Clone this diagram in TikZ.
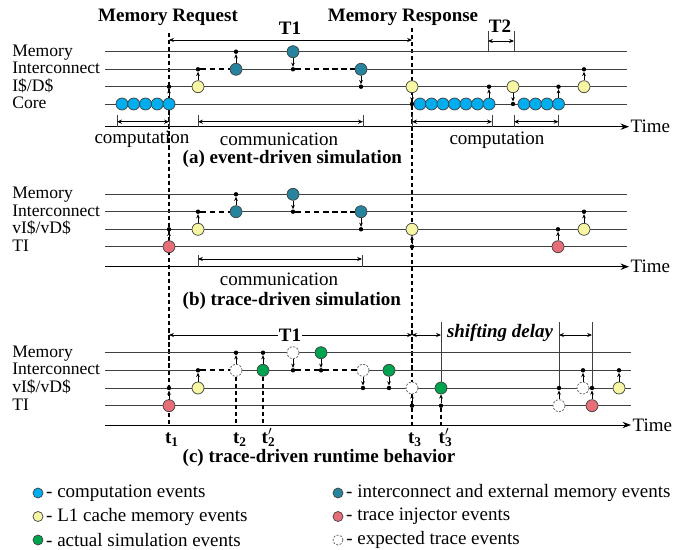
\documentclass[tikz,border=0pt]{standalone}
\usepackage{fontspec}
\IfFontExistsTF{LiberationSerif-Regular.ttf}
  {\setmainfont{LiberationSerif}[Extension=.ttf, UprightFont=*-Regular, BoldFont=*-Bold,
     ItalicFont=*-Italic, BoldItalicFont=*-BoldItalic]}
  {\setmainfont{Liberation Serif}}
\usepackage{tikz}
\usetikzlibrary{arrows.meta}

\definecolor{compblue}{RGB}{0,174,239}
\definecolor{cacheyel}{RGB}{246,246,165}
\definecolor{icnteal}{RGB}{40,132,158}
\definecolor{tired}{RGB}{230,110,120}
\definecolor{actgreen}{RGB}{0,163,80}

\newcommand{\tlab}[1]{\textbf{t\textsubscript{#1}}}
\newcommand{\tlabp}[1]{\textbf{t\rlap{\textsubscript{#1}}\textsuperscript{$\prime$}}}

\begin{document}
\begin{tikzpicture}[
  ev/.style={circle, draw=black!75, line width=0.5pt, inner sep=0pt, minimum size=0.3cm},
  comp/.style={ev, fill=compblue},
  cache/.style={ev, fill=cacheyel},
  icn/.style={ev, fill=icnteal},
  inj/.style={ev, fill=tired},
  act/.style={ev, fill=actgreen},
  expd/.style={ev, fill=white, draw=black!55, line width=0.6pt, dash pattern=on 1.5pt off 1pt},
  dotn/.style={circle, fill=black, inner sep=0pt, minimum size=0.11cm},
  sig/.style={-{Stealth[length=3pt,width=2.6pt]}, line width=0.7pt},
  lane/.style={black!75, line width=0.6pt},
  busdash/.style={line width=1.2pt, dash pattern=on 4pt off 2.5pt, preaction={draw=white, solid, line width=2.5pt}},
  cutline/.style={line width=0.9pt, dash pattern=on 3pt off 2pt},
  dimarr/.style={{Stealth[length=3.5pt,width=3pt]}-{Stealth[length=3.5pt,width=3pt]}, line width=0.6pt},
  timeax/.style={-{Stealth[length=6pt,width=4.5pt]}, line width=0.7pt},
  lbl/.style={font=\fontsize{12.5}{14}\selectfont, anchor=base west, inner sep=0pt},
  txt/.style={font=\fontsize{13.5}{16}\selectfont, inner sep=1pt},
  hdr/.style={font=\fontsize{13.5}{16}\selectfont\bfseries, inner sep=1pt},
]
\begin{scope}[x=0.025cm, y=-0.025cm]
\useasboundingbox (0,0) rectangle (689,550);

% request / response cuts
\coordinate (reqtop) at (169,33); \coordinate (reqbot) at (169,425);
\coordinate (rsptop) at (412,28); \coordinate (rspbot) at (412,425);
\draw[cutline] (reqtop) -- (reqbot);
\draw[cutline] (rsptop) -- (rspbot);
\node[hdr] (req) at (168,17) {Memory Request};
\node[hdr] (rsp) at (403,17) {Memory Response};

% (a) event-driven simulation
\foreach \y/\lab [count=\i] in {51.7/Memory, 69.3/Interconnect, 86.7/{I\$/D\$}, 104/Core}{
  \node[lbl] (la\i) at (12,\y+4.5) {\lab};
  \coordinate (sa\i) at (105,\y); \coordinate (ea\i) at (627,\y);
  \draw[lane] (sa\i) -- (ea\i);
}
\coordinate (ta) at (105,126.7);
\node[txt, anchor=west] (timea) at (629,126.7) {Time};
\draw[timeax] (ta) -- (timea.west);

\coordinate (t1al) at (169,40); \coordinate (t1ar) at (412,40);
\draw[dimarr] (t1al) -- (t1ar);
\node[hdr] (t1a) at (290,28) {T1};
\coordinate (t2l) at (488,31); \coordinate (t2r) at (514,31);
\draw[lane] (t2l) -- (488,51.7) (t2r) -- (514,51.7);
\draw[dimarr] (488,41) -- (514,41);
\node[hdr] (t2a) at (500,26) {T2};

\foreach \x [count=\i] in {122,133.75,145.5,157.25,169} \node[comp] (ca\i) at (\x,104) {};
\foreach \x [count=\i] in {420,431.5,443,454.5,466,477.5,489} \node[comp] (cb\i) at (\x,104) {};
\foreach \x [count=\i] in {524,535.5,547,558.5} \node[comp] (cc\i) at (\x,104) {};
\node[dotn] (pa1) at (169,86.7) {};
\node[cache] (ya1) at (198,86.7) {}; \node[dotn] (pa2) at (198,69.3) {};
\node[icn] (na1) at (236,69.3) {};   \node[dotn] (pa3) at (236,51.7) {};
\node[icn] (na2) at (293,51.7) {};   \node[dotn] (pa4) at (293,69.3) {};
\node[icn] (na3) at (361,69.3) {};   \node[dotn] (pa5) at (361,86.7) {};
\node[cache] (ya2) at (412,86.7) {}; \node[dotn] (pa6) at (412,104) {};
\node[dotn] (pa7) at (489,86.7) {};
\node[cache] (ya3) at (513,86.7) {}; \node[dotn] (pa8) at (513,104) {};
\node[dotn] (pa9) at (558.5,86.7) {};
\node[cache] (ya4) at (584,86.7) {}; \node[dotn] (pa10) at (584,69.3) {};
\draw[busdash] (pa2) -- (na1);
\draw[busdash] (pa4) -- (na3);
\draw[sig] (ca5) -- (pa1);
\draw[sig] (ya1) -- (pa2);
\draw[sig] (na1) -- (pa3);
\draw[sig] (na2) -- (pa4);
\draw[sig] (na3) -- (pa5);
\draw[sig] (ya2) -- (pa6);
\draw[sig] (cb7) -- (pa7);
\draw[sig] (ya3) -- (pa8);
\draw[sig] (cc4) -- (pa9);
\draw[sig] (ya4) -- (pa10);

\foreach \l/\r [count=\i] in {117/169,198/363,412/492,514/558.5}{
  \coordinate (bl\i) at (\l,121.7); \coordinate (br\i) at (\r,121.7);
  \draw[lane] (\l,115) -- (\l,126.7) (\r,115) -- (\r,126.7);
  \draw[dimarr] (bl\i) -- (br\i);
}
\node[txt] (compa1) at (142,139) {computation};
\node[txt] (comma) at (279,139) {communication};
\node[txt] (compa2) at (497,140) {computation};
\node[hdr, anchor=west] (capa) at (181,159) {(a) event-driven simulation};

% (b) trace-driven simulation
\foreach \y/\lab [count=\i] in {194.3/Memory, 211.7/Interconnect, 229.3/{vI\$/vD\$}, 246.7/TI}{
  \node[lbl] (lb\i) at (12,\y+4.5) {\lab};
  \coordinate (sb\i) at (105,\y); \coordinate (eb\i) at (627,\y);
  \draw[lane] (sb\i) -- (eb\i);
}
\coordinate (tb) at (105,266.7);
\node[txt, anchor=west] (timeb) at (629,266.7) {Time};
\draw[timeax] (tb) -- (timeb.west);

\node[inj] (rb1) at (169,246.7) {};   \node[dotn] (pb1) at (169,229.3) {};
\node[cache] (yb1) at (198,229.3) {}; \node[dotn] (pb2) at (198,211.7) {};
\node[icn] (nb1) at (236,211.7) {};   \node[dotn] (pb3) at (236,194.3) {};
\node[icn] (nb2) at (293,194.3) {};   \node[dotn] (pb4) at (293,211.7) {};
\node[icn] (nb3) at (361,211.7) {};   \node[dotn] (pb5) at (361,229.3) {};
\node[cache] (yb2) at (412,229.3) {}; \node[dotn] (pb6) at (412,246.7) {};
\node[inj] (rb2) at (558,246.7) {};   \node[dotn] (pb7) at (558,229.3) {};
\node[cache] (yb3) at (584,229.3) {}; \node[dotn] (pb8) at (584,211.7) {};
\draw[busdash] (pb2) -- (nb1);
\draw[busdash] (pb4) -- (nb3);
\draw[sig] (rb1) -- (pb1);
\draw[sig] (yb1) -- (pb2);
\draw[sig] (nb1) -- (pb3);
\draw[sig] (nb2) -- (pb4);
\draw[sig] (nb3) -- (pb5);
\draw[sig] (pb6) -- (yb2);
\draw[sig] (rb2) -- (pb7);
\draw[sig] (yb3) -- (pb8);

\coordinate (bbl) at (198,259); \coordinate (bbr) at (362,259);
\draw[lane] (198,255) -- (198,266.7) (362,255) -- (362,266.7);
\draw[dimarr] (bbl) -- (bbr);
\node[txt] (commb) at (279,279) {communication};
\node[hdr, anchor=west] (capb) at (181,301) {(b) trace-driven simulation};

% (c) trace-driven runtime behavior
\foreach \y/\lab [count=\i] in {352.7/Memory, 370.3/Interconnect, 388/{vI\$/vD\$}, 405.7/TI}{
  \node[lbl] (lc\i) at (12,\y+4.5) {\lab};
  \coordinate (sc\i) at (105,\y); \coordinate (ec\i) at (631,\y);
  \draw[lane] (sc\i) -- (ec\i);
}
\coordinate (tc) at (105,425);
\node[txt, anchor=west] (timec) at (631,425) {Time};
\draw[timeax] (tc) -- (timec.west);

\coordinate (t1cl) at (169,335); \coordinate (t1cr) at (412,335);
\coordinate (sdl) at (412,335);  \coordinate (sdr) at (441,335);
\coordinate (sd2l) at (559,335); \coordinate (sd2r) at (592,335);
\coordinate (v1) at (441,322); \coordinate (v2) at (559,322); \coordinate (v3) at (592,322);
\draw[dimarr] (t1cl) -- (t1cr);
\draw[dimarr] (sdl) -- (sdr);
\draw[dimarr] (sd2l) -- (sd2r);
\node[hdr, fill=white] (t1c) at (290,335) {T1};
\node[hdr, font=\fontsize{13.5}{16}\selectfont\bfseries\itshape] (shift) at (500,333) {shifting delay};

\node[inj] (rc1) at (169,405.7) {};   \node[dotn] (pc1) at (169,388) {};
\node[cache] (yc1) at (198,388) {};   \node[dotn] (pc2) at (198,370.3) {};
\node[expd] (xc1) at (236,370.3) {};  \node[dotn] (pc3) at (236,352.7) {};
\node[act] (gc1) at (263,370.3) {};   \node[dotn] (pc4) at (263,352.7) {};
\node[expd] (xc2) at (293,352.7) {};  \node[dotn] (pc5) at (293,370.3) {};
\node[act] (gc2) at (321,352.7) {};   \node[dotn] (pc6) at (321,370.3) {};
\node[expd] (xc3) at (363,370.3) {};  \node[dotn] (pc7) at (363,388) {};
\node[act] (gc3) at (389,370.3) {};   \node[dotn] (pc8) at (389,388) {};
\node[expd] (xc4) at (412,388) {};    \node[dotn] (pc9) at (412,405.7) {};
\node[act] (gc4) at (441,388) {};     \node[dotn] (pc10) at (441,405.7) {};
\node[expd] (xc5) at (559,405.7) {};  \node[dotn] (pc11) at (559,388) {};
\node[expd] (xc6) at (583,388) {};    \node[dotn] (pc12) at (583,370.3) {};
\node[inj] (rc2) at (592,405.7) {};   \node[dotn] (pc13) at (592,388) {};
\node[cache] (yc2) at (619,388) {};   \node[dotn] (pc14) at (619,370.3) {};
\draw[busdash] (pc2) -- (xc1);
\draw[busdash] (pc5) -- (pc6);
\draw[busdash] (pc6) -- (xc3);
\draw[sig] (rc1) -- (pc1);
\draw[sig] (yc1) -- (pc2);
\draw[sig] (xc1) -- (pc3);
\draw[sig] (gc1) -- (pc4);
\draw[sig] (xc2) -- (pc5);
\draw[sig] (gc2) -- (pc6);
\draw[sig] (xc3) -- (pc7);
\draw[sig] (gc3) -- (pc8);
\draw[sig] (pc9) -- (xc4);
\draw[sig] (pc10) -- (gc4);
\draw[sig] (xc5) -- (pc11);
\draw[sig] (xc6) -- (pc12);
\draw[sig] (rc2) -- (pc13);
\draw[sig] (yc2) -- (pc14);

\draw[lane] (v1) -- (gc4);
\draw[lane] (v2) -- (pc11);
\draw[lane] (v3) -- (pc13);
\coordinate (t2b) at (236,425); \coordinate (t2pb) at (263,425); \coordinate (t3pb) at (441,425);
\draw[cutline] (xc1) -- (t2b);
\draw[cutline, line width=1.2pt] (gc1) -- (t2pb);
\draw[cutline] (pc10) -- (t3pb);

\node[hdr, anchor=base] (tl1) at (172,443) {\tlab{1}};
\node[hdr, anchor=base] (tl2) at (240,443) {\tlab{2}};
\node[hdr, anchor=base] (tl2p) at (267,443) {\tlabp{2}};
\node[hdr, anchor=base] (tl3) at (415,443) {\tlab{3}};
\node[hdr, anchor=base] (tl3p) at (444,443) {\tlabp{3}};
\node[hdr, anchor=west] (capc) at (181,458) {(c) trace-driven runtime behavior};

% legend
\node[comp, minimum size=0.25cm] (lg1) at (38,493) {};
\node[cache, minimum size=0.25cm] (lg2) at (38,516.5) {};
\node[act, minimum size=0.25cm] (lg3) at (38,540) {};
\node[icn, minimum size=0.25cm] (lg4) at (338,493) {};
\node[inj, minimum size=0.25cm] (lg5) at (338,516.5) {};
\node[expd, minimum size=0.25cm] (lg6) at (338,540) {};
\foreach \lab [count=\i] in {computation events, L1 cache memory events, actual simulation events,
    interconnect and external memory events, trace injector events, expected trace events}
  \node[txt, anchor=west, xshift=0.03cm] (lt\i) at (lg\i.east) {- \lab};

\end{scope}
\end{tikzpicture}
\end{document}
